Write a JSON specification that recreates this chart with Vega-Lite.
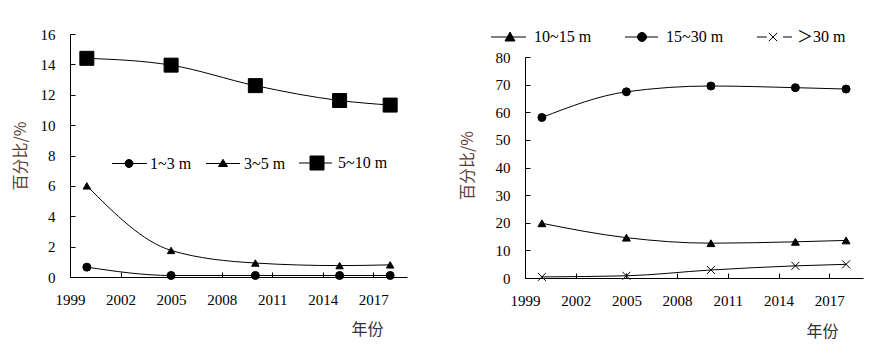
{
  "$schema": "https://vega.github.io/schema/vega-lite/v6.json",
  "background": "white",
  "padding": {"left": 12, "top": 27, "right": 5, "bottom": 5},
  "spacing": 52,
  "config": {
    "view": {"stroke": null},
    "axis": {
      "domainColor": "black", "domainWidth": 1, "tickColor": "black", "tickWidth": 1, "tickSize": -5,
      "labelColor": "black", "labelFont": "Liberation Serif", "labelFontSize": 15, "grid": false,
      "titleFont": "Noto Sans CJK SC", "titleFontSize": 16, "titleFontWeight": "normal",
      "labelPadding": 20
    },
    "legend": {
      "padding": 0, "labelFont": "Liberation Serif, Noto Sans CJK SC", "labelFontSize": 16, "labelColor": "black",
      "symbolStrokeWidth": 1, "symbolOpacity": 1, "symbolSize": 196
    }
  },
  "resolve": {"scale": {"x": "independent", "y": "independent", "shape": "independent"}, "legend": {"shape": "independent"}},
  "hconcat": [
    {
      "width": 337, "height": 243,
      "data": {"values": [
        {"year": 2000, "series": "1~3 m", "v": 0.65},
        {"year": 2005, "series": "1~3 m", "v": 0.1},
        {"year": 2010, "series": "1~3 m", "v": 0.1},
        {"year": 2015, "series": "1~3 m", "v": 0.1},
        {"year": 2018, "series": "1~3 m", "v": 0.1},
        {"year": 2000, "series": "3~5 m", "v": 6.0},
        {"year": 2005, "series": "3~5 m", "v": 1.75},
        {"year": 2010, "series": "3~5 m", "v": 0.92},
        {"year": 2015, "series": "3~5 m", "v": 0.75},
        {"year": 2018, "series": "3~5 m", "v": 0.8},
        {"year": 2000, "series": "5~10 m", "v": 14.4},
        {"year": 2005, "series": "5~10 m", "v": 13.95},
        {"year": 2010, "series": "5~10 m", "v": 12.6},
        {"year": 2015, "series": "5~10 m", "v": 11.62},
        {"year": 2018, "series": "5~10 m", "v": 11.32}
      ]},
      "encoding": {
        "x": {"field": "year", "type": "quantitative", "scale": {"domain": [1999, 2019], "nice": false, "zero": false},
          "axis": {"values": [1999, 2002, 2005, 2008, 2011, 2014, 2017], "format": "d", "labelFlush": false, "labelOverlap": false,
            "labelFont": "Liberation Serif", "labelFontSize": 15, "labelColor": "black",
            "title": "年份", "titleColor": "#333333", "titleX": 297, "titleY": 52, "titleAlign": "center", "titleBaseline": "middle", "titleAnchor": null}},
        "y": {"field": "v", "type": "quantitative", "scale": {"domain": [0, 16], "nice": false},
          "axis": {"values": [0, 2, 4, 6, 8, 10, 12, 14, 16], "title": "百分比/%", "titleColor": "#5a3a30",
            "labelFont": "Liberation Serif", "labelFontSize": 15, "labelColor": "black",
            "titleX": -50, "titleY": 121.5, "titleAlign": "center", "titleBaseline": "middle", "titleAngle": -90}}
      },
      "layer": [
        {"mark": {"type": "line", "color": "black", "strokeWidth": 1, "interpolate": "monotone"},
          "encoding": {"detail": {"field": "series", "type": "nominal"}}},
        {"transform": [{"filter": {"field": "series", "equal": "1~3 m"}}],
          "mark": {"type": "point", "shape": "circle", "size": 64, "filled": true, "fill": "black", "stroke": "black", "strokeWidth": 1, "opacity": 1}},
        {"transform": [{"filter": {"field": "series", "equal": "3~5 m"}}],
          "mark": {"type": "point", "shape": "triangle-up", "size": 55, "filled": true, "fill": "black", "stroke": "black", "strokeWidth": 1, "opacity": 1}},
        {"transform": [{"filter": {"field": "series", "equal": "5~10 m"}}],
          "mark": {"type": "point", "shape": "square", "size": 196, "filled": true, "fill": "black", "stroke": "black", "strokeWidth": 1, "opacity": 1}},
        {"mark": {"type": "point", "opacity": 0, "filled": true, "color": "black", "stroke": "black", "strokeWidth": 1},
          "encoding": {
            "shape": {"field": "series", "type": "nominal",
              "scale": {"domain": ["1~3 m", "3~5 m", "5~10 m"], "range": [
                "M-2.43,0H2.57M-0.57,0A0.57,0.57,0,1,0,0.57,0A0.57,0.57,0,1,0,-0.57,0Z",
                "M-2.43,0H2.43M0,-0.6L0.64,0.43L-0.64,0.43Z",
                "M-2.57,0H2.14M-1,-1H1V1H-1Z"]},
              "legend": {"orient": "none", "legendX": 51, "legendY": 121, "direction": "horizontal", "title": null,
                "labelOffset": 13, "columnPadding": 11, "symbolOpacity": 1, "symbolSize": 196, "symbolStrokeWidth": 1,
                "labelFont": "Liberation Serif", "labelFontSize": 16}}
          }}
      ]
    },
    {
      "width": 338, "height": 244,
      "data": {"values": [
        {"year": 2000, "series": "10~15 m", "v": 19.8},
        {"year": 2005, "series": "10~15 m", "v": 14.6},
        {"year": 2010, "series": "10~15 m", "v": 12.6},
        {"year": 2015, "series": "10~15 m", "v": 13.1},
        {"year": 2018, "series": "10~15 m", "v": 13.6},
        {"year": 2000, "series": "15~30 m", "v": 58.1},
        {"year": 2005, "series": "15~30 m", "v": 67.4},
        {"year": 2010, "series": "15~30 m", "v": 69.5},
        {"year": 2015, "series": "15~30 m", "v": 68.9},
        {"year": 2018, "series": "15~30 m", "v": 68.4},
        {"year": 2000, "series": "＞30 m", "v": 0.4},
        {"year": 2005, "series": "＞30 m", "v": 0.8},
        {"year": 2010, "series": "＞30 m", "v": 2.9},
        {"year": 2015, "series": "＞30 m", "v": 4.4},
        {"year": 2018, "series": "＞30 m", "v": 4.95}
      ]},
      "encoding": {
        "x": {"field": "year", "type": "quantitative", "scale": {"domain": [1999, 2019], "nice": false, "zero": false},
          "axis": {"values": [1999, 2002, 2005, 2008, 2011, 2014, 2017], "format": "d", "labelFlush": false, "labelOverlap": false,
            "labelFont": "Liberation Serif", "labelFontSize": 15, "labelColor": "black",
            "title": "年份", "titleColor": "#333333", "titleX": 297, "titleY": 53, "titleAlign": "center", "titleBaseline": "middle", "titleAnchor": null}},
        "y": {"field": "v", "type": "quantitative", "scale": {"domain": [0, 80], "nice": false, "range": [244, 23]},
          "axis": {"values": [0, 10, 20, 30, 40, 50, 60, 70, 80], "title": "百分比/%", "titleColor": "#5a3a30",
            "labelFont": "Liberation Serif", "labelFontSize": 15, "labelColor": "black",
            "titleX": -57.5, "titleY": 131, "titleAlign": "center", "titleBaseline": "middle", "titleAngle": -90}}
      },
      "layer": [
        {"mark": {"type": "line", "color": "black", "strokeWidth": 1, "interpolate": "monotone"},
          "encoding": {"detail": {"field": "series", "type": "nominal"}}},
        {"transform": [{"filter": {"field": "series", "equal": "10~15 m"}}],
          "mark": {"type": "point", "shape": "triangle-up", "size": 62, "filled": true, "fill": "black", "stroke": "black", "strokeWidth": 1, "opacity": 1}},
        {"transform": [{"filter": {"field": "series", "equal": "15~30 m"}}],
          "mark": {"type": "point", "shape": "circle", "size": 64, "filled": true, "fill": "black", "stroke": "black", "strokeWidth": 1, "opacity": 1}},
        {"transform": [{"filter": {"field": "series", "equal": "＞30 m"}}],
          "mark": {"type": "point", "shape": "M-1,-1L1,1M-1,1L1,-1", "size": 64, "filled": false, "fill": "white", "stroke": "black", "strokeWidth": 1, "opacity": 1}},
        {"mark": {"type": "point", "opacity": 0, "filled": true, "color": "black", "stroke": "black", "strokeWidth": 1},
          "encoding": {
            "shape": {"field": "series", "type": "nominal",
              "scale": {"domain": ["10~15 m", "15~30 m", "＞30 m"], "range": [
                "M-2.71,0H2.29M0,-0.7L0.71,0.57L-0.71,0.57Z",
                "M-2.43,0H2.29M-0.64,0A0.64,0.64,0,1,0,0.64,0A0.64,0.64,0,1,0,-0.64,0Z",
                "M-2.29,0H-0.9M1.43,0H2.71M-0.6,-0.6L0.6,0.6M-0.6,0.6L0.6,-0.6"]},
              "legend": {"orient": "none", "legendX": -23, "legendY": -5, "direction": "horizontal", "title": null,
                "labelOffset": 16, "columnPadding": 30, "symbolOpacity": 1, "symbolSize": 196, "symbolStrokeWidth": 1,
                "labelFont": "Liberation Serif, Noto Sans CJK SC", "labelFontSize": 16}}
          }}
      ]
    }
  ]
}
